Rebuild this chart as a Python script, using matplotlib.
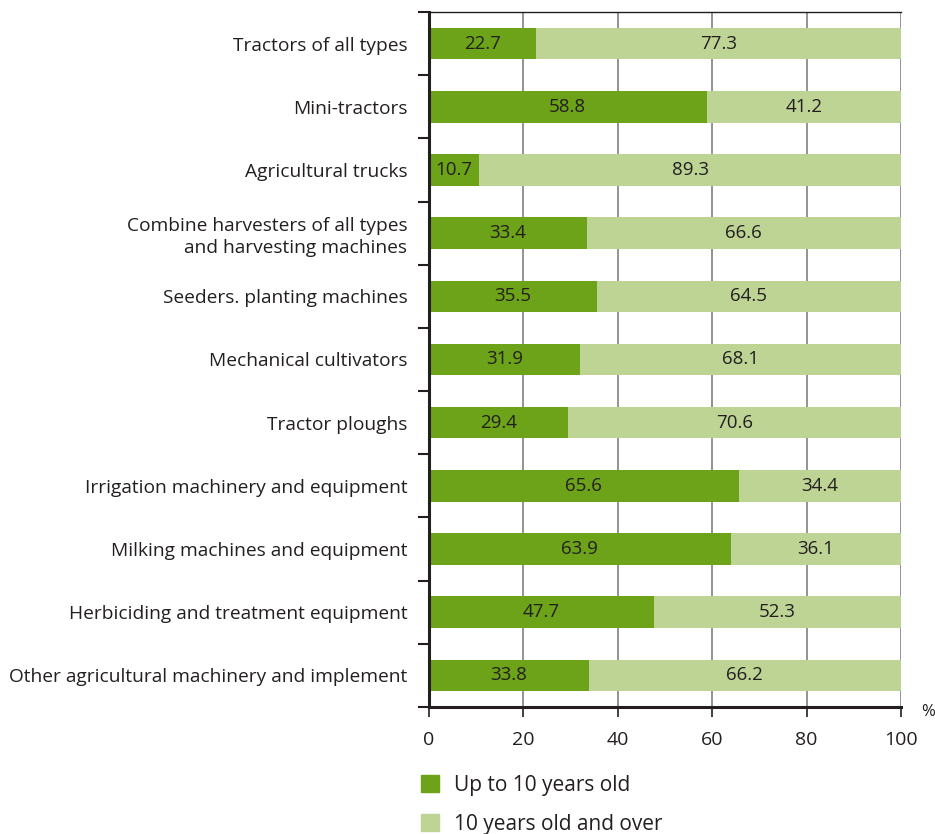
"""Age structure of agricultural machinery: horizontal stacked bars."""

import matplotlib

matplotlib.use("Agg")

import matplotlib.pyplot as plt
from matplotlib.patches import Patch

categories = [
    "Tractors of all types",
    "Mini-tractors",
    "Agricultural trucks",
    "Combine harvesters of all types\nand harvesting machines",
    "Seeders. planting machines",
    "Mechanical cultivators",
    "Tractor ploughs",
    "Irrigation machinery and equipment",
    "Milking machines and equipment",
    "Herbiciding and treatment equipment",
    "Other agricultural machinery and implement",
]
up_to_10 = [22.7, 58.8, 10.7, 33.4, 35.5, 31.9, 29.4, 65.6, 63.9, 47.7, 33.8]
over_10 = [77.3, 41.2, 89.3, 66.6, 64.5, 68.1, 70.6, 34.4, 36.1, 52.3, 66.2]
series_names = ["Up to 10 years old", "10 years old and over"]
x_ticks = [0, 20, 40, 60, 80, 100]

DARK = "#6ca318"
LIGHT = "#bdd495"
TEXT = "#231f20"

plt.rcParams["font.family"] = ["Open Sans", "DejaVu Sans"]

fig = plt.figure(figsize=(9.35, 8.34), dpi=100)
ax = fig.add_axes([0.4588, 0.1523, 0.5048, 0.8333])

y = list(range(len(categories)))
ax.barh(y, up_to_10, height=0.5, color=DARK, zorder=2)
ax.barh(y, over_10, left=up_to_10, height=0.5, color=LIGHT, zorder=2)

for yi, a, b in zip(y, up_to_10, over_10):
    ax.text(a / 2, yi, f"{a:.1f}", ha="center", va="center", fontsize=13.5, color=TEXT, zorder=3)
    ax.text(a + b / 2, yi, f"{b:.1f}", ha="center", va="center", fontsize=13.5, color=TEXT, zorder=3)

ax.set_ylim(len(categories) - 0.5, -0.5)
ax.set_xlim(0, 100)
ax.set_yticks(y)
ax.set_yticklabels(categories, fontsize=13.8, color=TEXT, linespacing=1.3)
ax.set_yticks([i - 0.5 for i in range(len(categories) + 1)], minor=True)
ax.tick_params(axis="y", which="major", length=0, pad=15.5)
ax.tick_params(axis="y", which="minor", length=8, width=1.5, color=TEXT)

ax.set_xticks(x_ticks)
ax.set_xticklabels([str(t) for t in x_ticks], fontsize=14, color=TEXT)
ax.tick_params(axis="x", direction="out", length=7, width=1.2, color=TEXT, pad=10)

ax.grid(axis="x", color="#8a8a8a", linewidth=1.3, zorder=0)
ax.set_axisbelow(True)

ax.spines["right"].set_visible(False)
ax.spines["top"].set_linewidth(1.0)
ax.spines["top"].set_color(TEXT)
ax.spines["left"].set_linewidth(2.2)
ax.spines["left"].set_color(TEXT)
ax.spines["bottom"].set_linewidth(2.2)
ax.spines["bottom"].set_color(TEXT)

fig.text(928 / 935, 1 - 712 / 834, "%", fontsize=12, color=TEXT, ha="center", va="center")

handles = [Patch(color=DARK), Patch(color=LIGHT)]
fig.legend(
    handles,
    series_names,
    loc="upper left",
    bbox_to_anchor=(421 / 935, 1 - 775 / 834),
    bbox_transform=fig.transFigure,
    frameon=False,
    fontsize=15,
    handlelength=0.85,
    handleheight=0.85,
    handletextpad=0.75,
    labelspacing=0.85,
    borderaxespad=0,
    borderpad=0,
    labelcolor=TEXT,
)

fig.savefig("out.png", dpi=100)
